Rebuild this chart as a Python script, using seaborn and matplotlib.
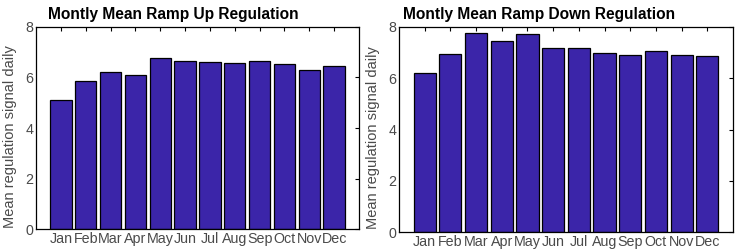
import numpy as np
import pandas as pd
import matplotlib
matplotlib.use('Agg')
import matplotlib.pyplot as plt
import seaborn as sns

months = ['Jan', 'Feb', 'Mar', 'Apr', 'May', 'Jun', 'Jul', 'Aug', 'Sep', 'Oct', 'Nov', 'Dec']
ramp_up = [5.09, 5.87, 6.21, 6.08, 6.76, 6.67, 6.62, 6.59, 6.67, 6.53, 6.29, 6.46]
ramp_down = [6.19, 6.96, 7.75, 7.45, 7.73, 7.18, 7.18, 6.98, 6.92, 7.07, 6.91, 6.85]
yticks = [0, 2, 4, 6, 8]

sns.set_style('white')
plt.rcParams['font.family'] = ['Liberation Sans', 'DejaVu Sans']

bar_color = '#3b25a9'
label_color = '#4a4a4a'

fig = plt.figure(figsize=(7.36, 2.49), dpi=100)
ax1 = fig.add_axes([36/736, 20/249, 323/736, 202/249])
ax2 = fig.add_axes([399/736, 17/249, 334/736, 205/249])


def draw_panel(ax, values, title, title_x, label_x):
    df = pd.DataFrame({'month': months, 'value': values})
    sns.barplot(data=df, x='month', y='value', ax=ax, color=bar_color,
                saturation=1, width=0.86, edgecolor='black', linewidth=0.9)
    ax.set_xlim(-1, 12)
    ax.set_ylim(0, 8)
    ax.set_yticks(yticks)
    ax.set_xlabel('')
    ax.set_ylabel('Mean regulation signal daily', fontsize=10.5, color=label_color)
    ax.yaxis.set_label_coords(label_x, 0.46)
    ax.tick_params(axis='both', direction='in', length=3, width=0.8, colors='black',
                   labelcolor=label_color, labelsize=10.3, top=True, right=True, pad=2)
    for s in ax.spines.values():
        s.set_visible(True)
        s.set_color('black')
        s.set_linewidth(0.9)
    fig.text(title_x, 1 - 15/249, title, fontsize=11.2, fontweight='bold',
             ha='left', va='center', color='black')


draw_panel(ax1, ramp_up, 'Montly Mean Ramp Up Regulation', 48/736, -0.06)
draw_panel(ax2, ramp_down, 'Montly Mean Ramp Down Regulation', 403/736, -0.057)

fig.savefig('out.png', dpi=100)
